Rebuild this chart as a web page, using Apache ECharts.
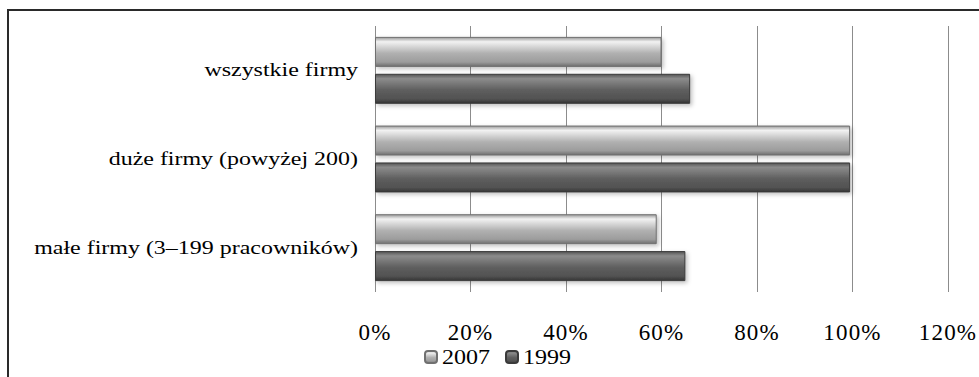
<!DOCTYPE html>
<html>
<head>
<meta charset="utf-8">
<script src="https://cdn.jsdelivr.net/npm/echarts@6/dist/echarts.min.js"></script>
<style>
  html, body { margin: 0; padding: 0; background: #fff; }
  #chart { width: 979px; height: 377px; }
  #chart text[text-anchor="middle"] { letter-spacing: 1.2px; }
</style>
</head>
<body>
<div id="chart"></div>
<script>
// Categories listed bottom-to-top, as the category axis runs upward
const categories = ['małe firmy (3–199 pracowników)', 'duże firmy (powyżej 200)', 'wszystkie firmy'];
const seriesNames = ['2007', '1999'];
const values2007 = [0.59, 0.995, 0.60];
const values1999 = [0.65, 0.995, 0.66];
const xTicks = { min: 0, max: 1.2, interval: 0.2 };

const serif = '"Liberation Serif", "Times New Roman", serif';

function barFill(top, hi, mid, low, bottom) {
  return new echarts.graphic.LinearGradient(0, 0, 0, 1, [
    { offset: 0, color: top },
    { offset: 0.15, color: hi },
    { offset: 0.55, color: mid },
    { offset: 0.85, color: low },
    { offset: 1, color: bottom }
  ]);
}

const light = barFill('#9a9a9a', '#f2f2f2', '#b0b0b0', '#9c9c9c', '#6e6e6e');
const dark = barFill('#555555', '#8c8c8c', '#5e5e5e', '#525252', '#353535');

const barShadow = { shadowColor: 'rgba(0,0,0,0.25)', shadowBlur: 4, shadowOffsetY: 2, shadowOffsetX: 2 };

const chart = echarts.init(document.getElementById('chart'), null, { renderer: 'svg' });
chart.setOption({
  animation: false,
  backgroundColor: '#ffffff',
  grid: { left: 375, right: 31, top: 26, bottom: 85, containLabel: false },
  xAxis: {
    type: 'value',
    min: xTicks.min, max: xTicks.max, interval: xTicks.interval,
    axisLine: { show: false },
    axisTick: { show: false },
    splitLine: { show: true, lineStyle: { color: '#8c8c8c', width: 1 } },
    axisLabel: {
      margin: 29,
      fontFamily: serif, fontSize: 23, color: '#000',
      formatter: v => Math.round(v * 100) + '%'
    }
  },
  yAxis: {
    type: 'category',
    data: categories,
    axisLine: { show: false },
    axisTick: { show: false },
    axisLabel: { margin: 17, fontFamily: serif, fontSize: 18, color: '#000' }
  },
  legend: {
    data: seriesNames,
    bottom: 5,
    left: 419,
    itemWidth: 12, itemHeight: 12, itemGap: 23,
    textStyle: { fontFamily: serif, fontSize: 20, color: '#000' }
  },
  series: [
    {
      name: '2007', type: 'bar', data: values2007,
      barWidth: 30, barGap: '23%',
      itemStyle: Object.assign({ color: light, borderColor: '#707070', borderWidth: 1 }, barShadow)
    },
    {
      name: '1999', type: 'bar', data: values1999,
      barWidth: 30, barGap: '23%',
      itemStyle: Object.assign({ color: dark, borderColor: '#3a3a3a', borderWidth: 1 }, barShadow)
    }
  ],
  graphic: [
    {
      type: 'polyline', silent: true,
      shape: { points: [[8, 400], [8, 10], [990, 10]] },
      style: { fill: null, stroke: '#2a2a2a', lineWidth: 2 }
    }
  ]
});

// Widen the lettering of category and legend texts (glyphs stretched horizontally)
function stretchText() {
  const rules = [['end', 1.33], ['start', 1.2]];
  rules.forEach(([anchor, factor]) => {
    document.querySelectorAll('#chart text[text-anchor="' + anchor + '"]').forEach(t => {
      if (t.getAttribute('lengthAdjust')) return;
      const w = t.getComputedTextLength();
      if (!w) return;
      t.setAttribute('textLength', (w * factor).toFixed(1));
      t.setAttribute('lengthAdjust', 'spacingAndGlyphs');
    });
  });
}
chart.on('finished', stretchText);
stretchText();
setTimeout(stretchText, 50);
</script>
</body>
</html>
